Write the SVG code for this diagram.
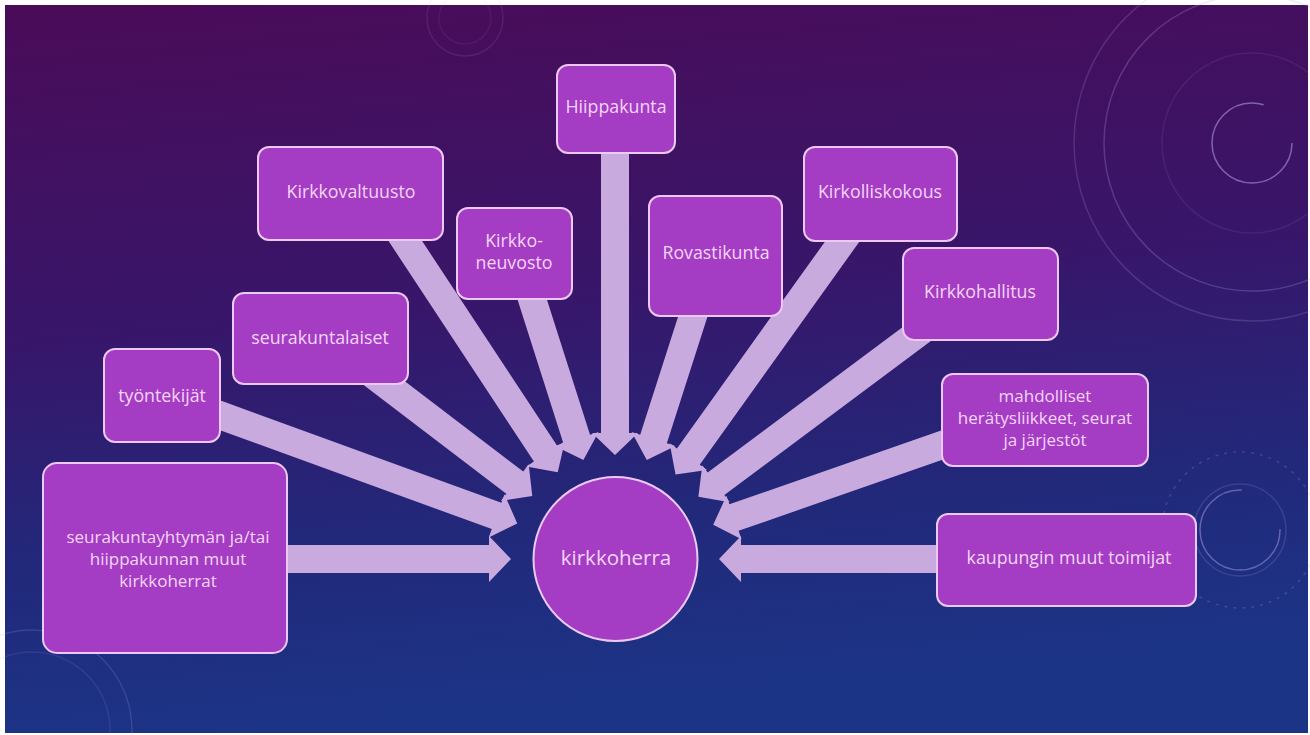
<svg xmlns="http://www.w3.org/2000/svg" width="1310" height="735" viewBox="0 0 1310 735">
<defs>
<linearGradient id="bg" x1="0" y1="0" x2="0.15" y2="1">
<stop offset="0" stop-color="#4a0b58"/>
<stop offset="0.45" stop-color="#38166a"/>
<stop offset="0.75" stop-color="#22287a"/>
<stop offset="1" stop-color="#1c3486"/>
</linearGradient>
<style>
.box{fill:#a43cc4;stroke:#ecc8f4;stroke-width:2}
.lbl{font-family:"Open Sans","Noto Sans",sans-serif;font-size:17.8px;fill:#f4d6f8;text-anchor:middle;dominant-baseline:middle}
.ml{font-size:17px}
.arr{fill:#c9aadf}
.deco{fill:none;stroke:#b9a6e6;stroke-width:1.5}
</style>
</defs>
<rect x="0" y="0" width="1310" height="735" fill="#ffffff"/>
<rect x="5" y="5" width="1303" height="728" fill="url(#bg)"/>
<g id="decor">
<circle class="deco" cx="1252" cy="143" r="40" stroke-opacity="0.55" stroke-dasharray="200 52"/>
<circle class="deco" cx="1252" cy="143" r="90" stroke-opacity="0.1"/>
<circle class="deco" cx="1252" cy="143" r="148" stroke-opacity="0.25"/>
<circle class="deco" cx="1252" cy="143" r="178" stroke-opacity="0.2"/>
<circle class="deco" cx="465" cy="18" r="38" stroke-opacity="0.12"/>
<circle class="deco" cx="465" cy="18" r="26" stroke-opacity="0.08"/>
<circle class="deco" cx="32" cy="730" r="100" stroke-opacity="0.18"/>
<circle class="deco" cx="32" cy="730" r="78" stroke-opacity="0.12"/>
<circle class="deco" cx="1240" cy="530" r="40" stroke-opacity="0.45" stroke-dasharray="190 60"/>
<circle class="deco" cx="1240" cy="530" r="46" stroke-opacity="0.18"/>
<circle class="deco" cx="1240" cy="530" r="78" stroke-opacity="0.22" stroke-dasharray="3 6"/>
</g>
<g id="connectors">
<polygon class="arr" transform="translate(615 559) rotate(0) translate(-104 0)" points="-228,-14 -22,-14 -22,-23 0,0 -22,23 -22,14 -228,14"/>
<polygon class="arr" transform="translate(615 559) rotate(20) translate(-104 0)" points="-320,-14 -22,-14 -22,-23 0,0 -22,23 -22,14 -320,14"/>
<polygon class="arr" transform="translate(615 559) rotate(37.3) translate(-104 0)" points="-210,-14 -22,-14 -22,-23 0,0 -22,23 -22,14 -210,14"/>
<polygon class="arr" transform="translate(615 559) rotate(56.6) translate(-104 0)" points="-293,-14 -22,-14 -22,-23 0,0 -22,23 -22,14 -293,14"/>
<polygon class="arr" transform="translate(615 559) rotate(72.3) translate(-104 0)" points="-182,-14 -22,-14 -22,-23 0,0 -22,23 -22,14 -182,14"/>
<polygon class="arr" transform="translate(615 559) rotate(90) translate(-104 0)" points="-306,-14 -22,-14 -22,-23 0,0 -22,23 -22,14 -306,14"/>
<polygon class="arr" transform="translate(615 559) rotate(107.8) translate(-104 0)" points="-164,-14 -22,-14 -22,-23 0,0 -22,23 -22,14 -164,14"/>
<polygon class="arr" transform="translate(615 559) rotate(125.6) translate(-104 0)" points="-302,-14 -22,-14 -22,-23 0,0 -22,23 -22,14 -302,14"/>
<polygon class="arr" transform="translate(615 559) rotate(143.3) translate(-104 0)" points="-285,-14 -22,-14 -22,-23 0,0 -22,23 -22,14 -285,14"/>
<polygon class="arr" transform="translate(615 559) rotate(160.8) translate(-104 0)" points="-253,-14 -22,-14 -22,-23 0,0 -22,23 -22,14 -253,14"/>
<polygon class="arr" transform="translate(615 559) rotate(180) translate(-104 0)" points="-222,-14 -22,-14 -22,-23 0,0 -22,23 -22,14 -222,14"/>
</g>
<g id="n-hiippakunta"><rect class="box" x="557" y="65" width="118" height="88" rx="11"/><text class="lbl" x="616" y="108">Hiippakunta</text></g>
<g id="n-kirkkovaltuusto"><rect class="box" x="258" y="147" width="185" height="93" rx="11"/><text class="lbl" x="351" y="193">Kirkkovaltuusto</text></g>
<g id="n-kirkkoneuvosto"><rect class="box" x="457" y="208" width="115" height="91" rx="11"/><text class="lbl" x="514" y="242">Kirkko-</text><text class="lbl" x="514" y="264">neuvosto</text></g>
<g id="n-rovastikunta"><rect class="box" x="649" y="196" width="133" height="120" rx="11"/><text class="lbl" x="716" y="254">Rovastikunta</text></g>
<g id="n-kirkolliskokous"><rect class="box" x="804" y="147" width="153" height="94" rx="11"/><text class="lbl" x="880" y="193">Kirkolliskokous</text></g>
<g id="n-kirkkohallitus"><rect class="box" x="903" y="248" width="155" height="92" rx="11"/><text class="lbl" x="980" y="293">Kirkkohallitus</text></g>
<g id="n-mahdolliset"><rect class="box" x="942" y="374" width="206" height="92" rx="11"/><text class="lbl ml" x="1045" y="397">mahdolliset</text><text class="lbl ml" x="1045" y="419">herätysliikkeet, seurat</text><text class="lbl ml" x="1045" y="441">ja järjestöt</text></g>
<g id="n-kaupungin"><rect class="box" x="937" y="514" width="259" height="92" rx="11"/><text class="lbl" x="1069" y="559">kaupungin muut toimijat</text></g>
<g id="n-seurakuntalaiset"><rect class="box" x="233" y="293" width="175" height="91" rx="11"/><text class="lbl" x="320" y="339">seurakuntalaiset</text></g>
<g id="n-tyontekijat"><rect class="box" x="104" y="349" width="116" height="93" rx="11"/><text class="lbl" x="162" y="397">työntekijät</text></g>
<g id="n-seurakuntayhtyma"><rect class="box" x="43" y="463" width="244" height="190" rx="14"/><text class="lbl ml" x="168" y="538">seurakuntayhtymän ja/tai</text><text class="lbl ml" x="168" y="560">hiippakunnan muut</text><text class="lbl ml" x="168" y="582">kirkkoherrat</text></g>
<g id="n-kirkkoherra"><circle class="box" cx="615.5" cy="559" r="82"/><text class="lbl" x="616" y="560" style="font-size:20.5px">kirkkoherra</text></g>
</svg>
